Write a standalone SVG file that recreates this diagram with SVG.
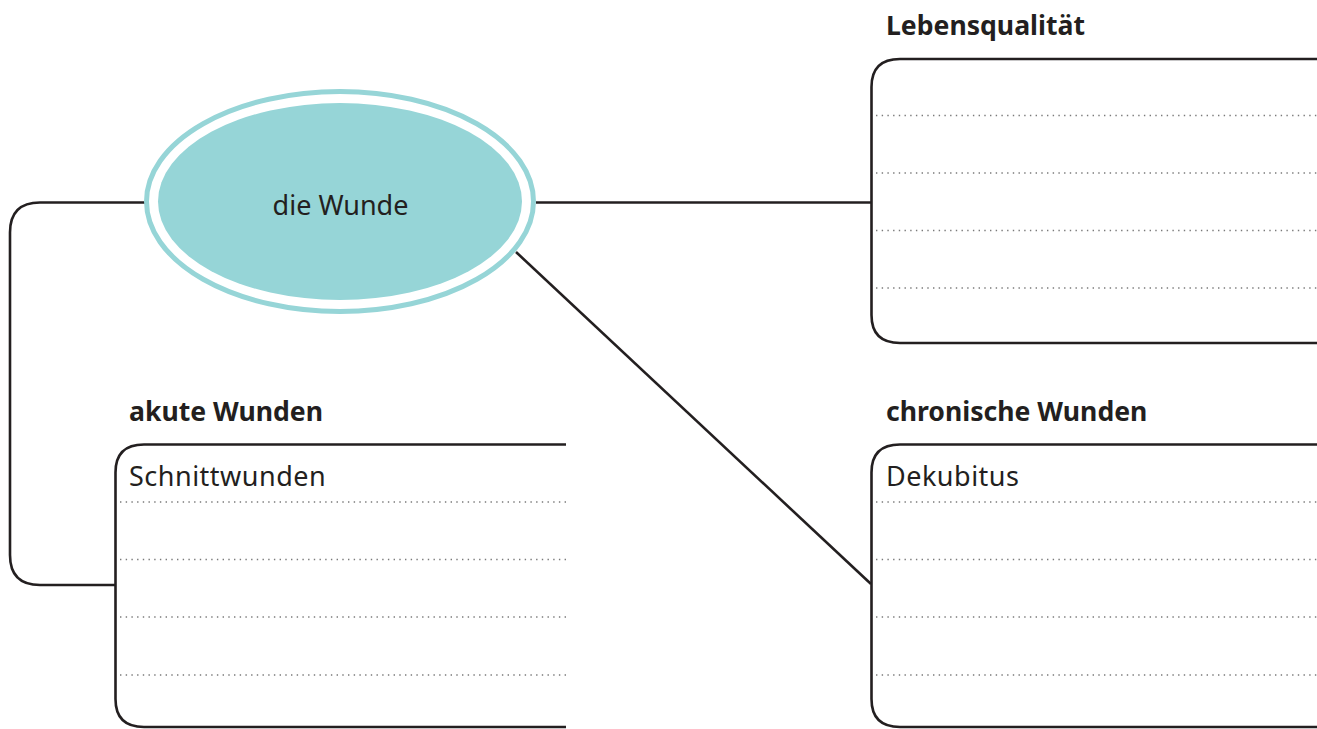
<svg xmlns="http://www.w3.org/2000/svg" width="1317" height="729" viewBox="0 0 1317 729">
<style>
.ln{fill:none;stroke:#231f20;stroke-width:2.6}
.dot{fill:none;stroke:#7a7a7a;stroke-width:1.4;stroke-dasharray:1.4 4.3}
.t{font-family:"Noto Sans","Open Sans",sans-serif;font-size:27px;fill:#231f20}
.b{letter-spacing:0.5px}
.h{font-family:"Noto Sans","Open Sans",sans-serif;font-size:26.6px;font-weight:bold;fill:#231f20}
</style>
<rect width="1317" height="729" fill="#ffffff"/>
<g id="connectors">
<path class="ln" d="M145 202.5 H40 Q10 202.5 10 232.5 V555 Q10 585 40 585 H116"/>
<path class="ln" d="M536 202.5 H871"/>
<path class="ln" d="M516 252 L871 584"/>
</g>
<g id="center">
<ellipse cx="340" cy="201.5" rx="193.5" ry="110" fill="none" stroke="#96d5d7" stroke-width="5"/>
<ellipse cx="340" cy="201.5" rx="182" ry="98.5" fill="#96d5d7"/>
<text class="t" x="340.5" y="215" text-anchor="middle">die Wunde</text>
</g>
<g id="lebensqualitaet">
<text class="h" x="886" y="35">Lebensqualität</text>
<path class="ln" d="M1317 59 H900 Q871.5 59 871.5 87 V315 Q871.5 343 900 343 H1317"/>
<path class="dot" d="M876 115.5 H1317 M876 173 H1317 M876 230.5 H1317 M876 288 H1317"/>
</g>
<g id="akute">
<text class="h" x="129" y="421">akute Wunden</text>
<path class="ln" d="M566 444.5 H144 Q115.5 444.5 115.5 472.5 V699 Q115.5 727 144 727 H566"/>
<path class="dot" d="M120 502 H569 M120 559.5 H569 M120 617 H569 M120 675 H569"/>
<text class="t b" x="129" y="486">Schnittwunden</text>
</g>
<g id="chronische">
<text class="h" x="886" y="421">chronische Wunden</text>
<path class="ln" d="M1317 444.5 H900 Q871.5 444.5 871.5 472.5 V699 Q871.5 727 900 727 H1317"/>
<path class="dot" d="M876 502 H1317 M876 559.5 H1317 M876 617 H1317 M876 675 H1317"/>
<text class="t b" x="886" y="486">Dekubitus</text>
</g>
</svg>
